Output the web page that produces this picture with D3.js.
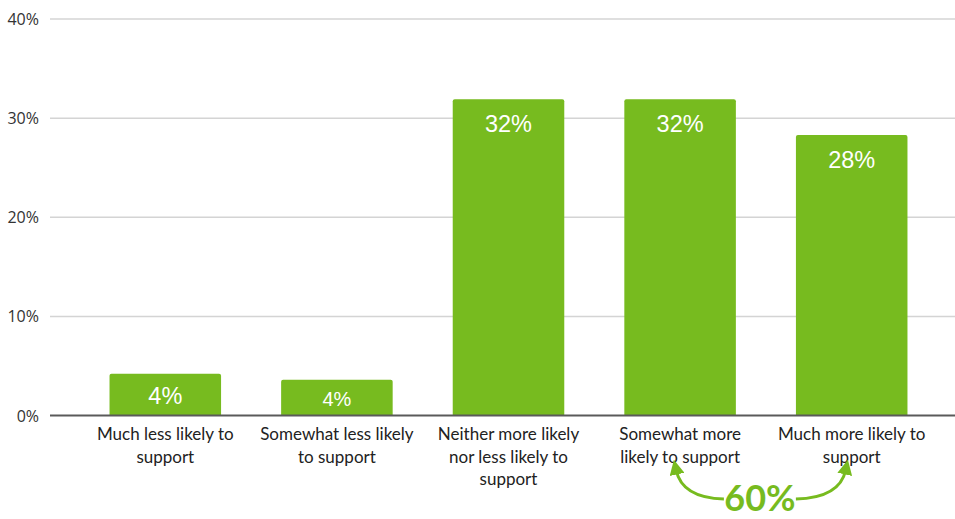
<!DOCTYPE html>
<html>
<head>
<meta charset="utf-8">
<script src="https://cdn.jsdelivr.net/npm/d3@7"></script>
<style>
  html, body { margin: 0; padding: 0; background: #fff; }
  svg { display: block; }
</style>
</head>
<body>
<script>
const categories = [
  ["Much less likely to", "support"],
  ["Somewhat less likely", "to support"],
  ["Neither more likely", "nor less likely to", "support"],
  ["Somewhat more", "likely to support"],
  ["Much more likely to", "support"]
];
const values = [4.2, 3.6, 31.9, 31.9, 28.3];
const valueLabels = ["4%", "4%", "32%", "32%", "28%"];
const yTicks = [0, 10, 20, 30, 40];
const totalLabel = "60%";

const W = 955, H = 519;
const green = "#77BB1F";

const svg = d3.select("body").append("svg")
  .attr("width", W).attr("height", H);

const x = d3.scaleBand()
  .domain(d3.range(values.length))
  .range([79.5, 937.5])
  .paddingInner(0.35)
  .paddingOuter(0.175);

const y = d3.scaleLinear().domain([0, 40]).range([415.5, 19]);

// tick labels
const yAxis = d3.axisLeft(y).tickValues(yTicks).tickFormat(d => d + "%").tickSize(0).tickPadding(0);
const gy = svg.append("g").attr("transform", "translate(39,0)").call(yAxis);
gy.select(".domain").remove();
gy.selectAll("text")
  .attr("font-family", "'Open Sans', sans-serif")
  .attr("font-size", 16)
  .attr("fill", "#333")
  .attr("dy", "0.35em");

// gridlines
svg.append("g").selectAll("line")
  .data(yTicks.filter(d => d > 0))
  .join("line")
  .attr("x1", 50).attr("x2", W)
  .attr("y1", d => y(d)).attr("y2", d => y(d))
  .attr("stroke", "#d4d4d4").attr("stroke-width", 1.5);

// bars
const bw = x.bandwidth();
const r = 2;
svg.append("g").selectAll("path")
  .data(values)
  .join("path")
  .attr("fill", green)
  .attr("d", (d, i) => {
    const x0 = x(i), x1 = x(i) + bw, t = y(d), b = y(0);
    return `M${x0},${b} L${x0},${t + r} Q${x0},${t} ${x0 + r},${t} L${x1 - r},${t} Q${x1},${t} ${x1},${t + r} L${x1},${b} Z`;
  });

// baseline
svg.append("line")
  .attr("x1", 50).attr("x2", W)
  .attr("y1", y(0)).attr("y2", y(0))
  .attr("stroke", "#5a5a5a").attr("stroke-width", 2);

// value labels
svg.append("g").selectAll("text")
  .data(values)
  .join("text")
  .attr("x", (d, i) => x(i) + bw / 2)
  .attr("y", d => y(d) + Math.min(33, (y(0) - y(d)) * 0.72))
  .attr("text-anchor", "middle")
  .attr("font-family", "'Liberation Sans', Arial, sans-serif")
  .attr("font-size", (d) => (y(0) - y(d)) < 40 ? 20 : 23.5)
  .attr("fill", "#fff")
  .text((d, i) => valueLabels[i]);

// category labels
const cg = svg.append("g").selectAll("text")
  .data(categories)
  .join("text")
  .attr("text-anchor", "middle")
  .attr("font-family", "Lato, 'Open Sans', sans-serif")
  .attr("font-size", 17)
  .attr("fill", "#222");
cg.each(function(lines, i) {
  d3.select(this).selectAll("tspan")
    .data(lines)
    .join("tspan")
    .attr("x", x(i) + bw / 2)
    .attr("y", (l, j) => 440 + j * 22.5)
    .text(l => l);
});

// arrows
const defs = svg.append("defs");
defs.append("marker")
  .attr("id", "ah")
  .attr("viewBox", "0 0 10 10")
  .attr("refX", 3).attr("refY", 5)
  .attr("markerWidth", 5).attr("markerHeight", 5)
  .attr("markerUnits", "strokeWidth")
  .attr("orient", "auto")
  .append("path").attr("d", "M0,0 L10,5 L0,10 Z").attr("fill", green);

const c4 = x(3) + bw / 2, c5 = x(4) + bw / 2;
const mid = (c4 + c5) / 2 - 6;
svg.append("path")
  .attr("d", `M${mid - 36},499 Q${c4 + 2},498 ${c4 - 4},470`)
  .attr("fill", "none").attr("stroke", green).attr("stroke-width", 3)
  .attr("marker-end", "url(#ah)");
svg.append("path")
  .attr("d", `M${mid + 36},499 Q${c5 - 12},498 ${c5 - 6},470`)
  .attr("fill", "none").attr("stroke", green).attr("stroke-width", 3)
  .attr("marker-end", "url(#ah)");

svg.append("text")
  .attr("x", mid)
  .attr("y", 511)
  .attr("text-anchor", "middle")
  .attr("font-family", "Lato, 'Open Sans', sans-serif")
  .attr("font-weight", "bold")
  .attr("font-size", 36)
  .attr("fill", green)
  .text(totalLabel);
</script>
</body>
</html>
